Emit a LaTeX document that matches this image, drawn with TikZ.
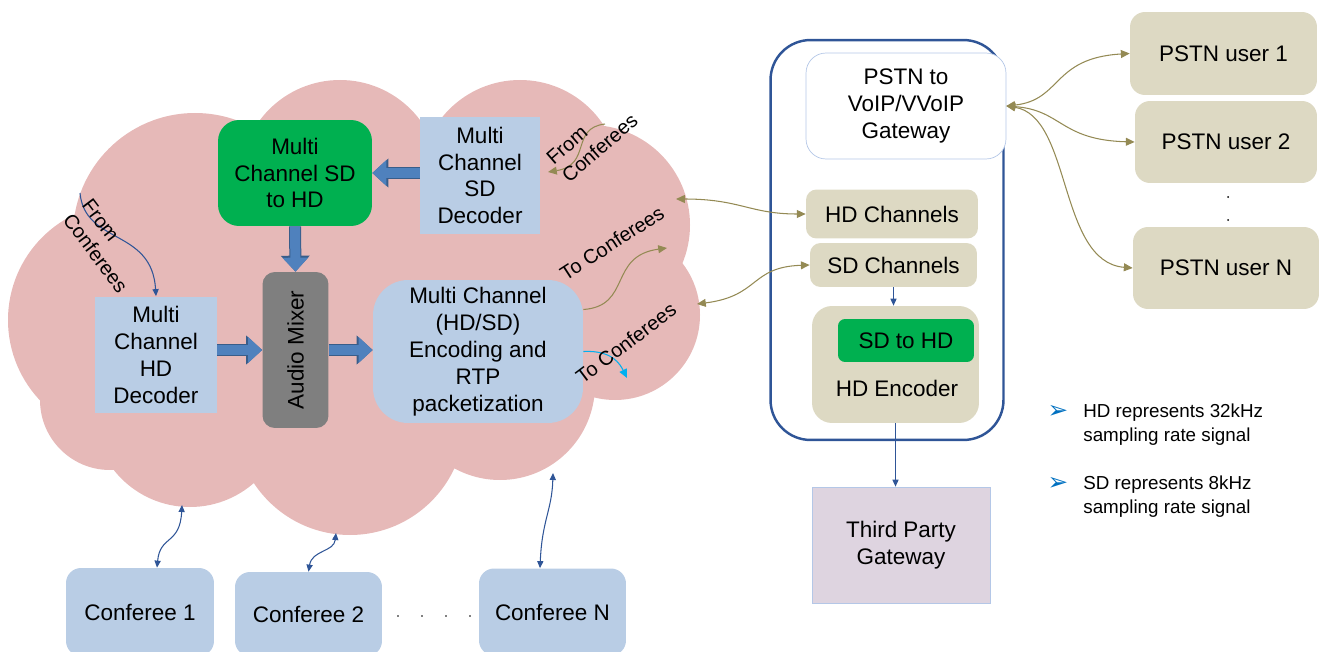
\documentclass[tikz,border=0pt]{standalone}
\usepackage{fontspec}
\setmainfont{Liberation Sans}
\newfontfamily\symfont{DejaVu Sans}
\usetikzlibrary{positioning, arrows.meta}

\definecolor{cloudpink}{RGB}{230,185,184}
\definecolor{paleblue}{RGB}{185,205,229}
\definecolor{chanfill}{RGB}{221,217,195}
\definecolor{mixgreen}{RGB}{0,176,80}
\definecolor{mixgray}{RGB}{127,127,127}
\definecolor{blockblue}{RGB}{79,129,189}
\definecolor{blockedge}{RGB}{56,93,138}
\definecolor{linkblue}{RGB}{47,85,151}
\definecolor{linkolive}{RGB}{148,138,84}
\definecolor{linkcyan}{RGB}{0,176,240}
\definecolor{gwlilac}{RGB}{222,212,224}
\definecolor{gwedge}{RGB}{180,199,231}
\definecolor{bulletblue}{RGB}{0,112,192}

\begin{document}
\begin{tikzpicture}[
    x=0.02cm, y=-0.02cm,
    box/.style={align=center, font=\fontsize{12.8}{15.3}\selectfont, inner sep=1pt},
    note/.style={align=left, font=\fontsize{11.4}{13.6}\selectfont, inner sep=0pt},
    legend/.style={align=left, anchor=west, font=\fontsize{10.7}{13.6}\selectfont, inner sep=0pt},
    bullet/.style={font=\symfont\fontsize{14}{16}\selectfont, text=bulletblue, inner sep=0pt},
    fat/.style={line width=0.2cm, draw=blockblue, -{Triangle[length=0.28cm, width=0.5cm]},
        preaction={draw=blockedge, line width=0.24cm, -{Triangle[length=0.32cm, width=0.56cm]}}},
    olivearr/.style={draw=linkolive, line width=0.6pt, -{Triangle[length=5pt, width=4.5pt]}},
    olivelink/.style={draw=linkolive, line width=0.6pt, {Triangle[length=5pt, width=4.5pt]}-{Triangle[length=5pt, width=4.5pt]}},
    bluearr/.style={draw=linkblue, line width=0.6pt, -{Triangle[length=4pt, width=3.5pt]}},
    bluelink/.style={draw=linkblue, line width=0.6pt, {Triangle[length=4pt, width=3.5pt]}-{Triangle[length=4pt, width=3.5pt]}},
]
\useasboundingbox (0,0) rectangle (1325,652);

% Cloud
\fill[cloudpink] (195,235) circle (122) (340,180) circle (100) (520,180) circle (100)
    (590,225) circle (100) (615,315) circle (85) (500,385) circle (95)
    (350,420) circle (115) (190,410) circle (97) (125,320) circle (117)
    (110,400) circle (70) (380,300) circle (170) (250,300) circle (130);

% Conference bridge blocks
\node[box, fill=mixgreen, rounded corners=12pt, minimum width=3.08cm, minimum height=2.12cm] (sdtohd) at (295,173) {Multi\\Channel SD\\to HD};
\node[box, fill=paleblue, minimum width=2.4cm, minimum height=2.34cm] (sddec) at (480,175.5) {Multi\\Channel\\SD\\Decoder};
\node[box, fill=paleblue, minimum width=2.44cm, minimum height=2.34cm] (hddec) at (156,355) {Multi\\Channel\\HD\\Decoder};
\node[box, fill=mixgray, rounded corners=7pt, minimum width=1.32cm, minimum height=3.12cm] (mixer) at (295.5,350) {\rotatebox{90}{Audio Mixer}};
\node[box, fill=paleblue, rounded corners=20pt, minimum width=4.2cm, minimum height=2.86cm] (enc) at (478,351.5) {Multi Channel\\(HD/SD)\\Encoding and\\RTP\\packetization};

\draw[fat] (sddec.west |- sdtohd) -- (sdtohd.east);
\draw[fat] (sdtohd.south) -- (mixer.north);
\draw[fat] (hddec.east |- mixer) -- (mixer.west);
\draw[fat] (mixer.east) -- (mixer.east -| enc.west);

% From / to conferees
\coordinate (fromL) at (80,193);
\coordinate (fromR) at (605,124);
\coordinate (fromRend) at (548,172);
\coordinate (toUp) at (667,248);
\coordinate (toLow) at (627,378);
\draw[bluearr] (fromL) .. controls (85,245) and (152,228) .. (hddec.north);
\node[note, rotate=-53] (fromLtxt) at (105,246) {From\\Conferees};
\draw[olivearr] (fromR) .. controls (570,128) and (592,165) .. (fromRend);
\node[note, rotate=41] (fromRtxt) at (592,139) {From\\Conferees};
\draw[olivearr] ([yshift=0.84cm]enc.east) .. controls (632,306) and (608,256) .. (toUp);
\node[note, rotate=33] (toUptxt) at (612,243) {To Conferees};
\draw[draw=linkcyan, line width=0.6pt, -{Triangle[length=5pt, width=4.5pt]}] (enc.east) .. controls (612,350) and (620,364) .. (toLow);
\node[note, rotate=37] (toLowtxt) at (626,343) {To Conferees};

% Gateway
\node[draw=linkblue, line width=1.4pt, rounded corners=0.8cm, minimum width=4.66cm, minimum height=8cm] (gwbox) at (887,240) {};
\node[box, draw=gwedge, fill=white, rounded corners=0.4cm, minimum width=4cm, minimum height=2.12cm] (pstngw) at (906,106) {PSTN to\\VoIP/VVoIP\\Gateway};
\node[box, fill=chanfill, rounded corners=6pt, minimum width=3.44cm, minimum height=0.98cm] (hdch) at (892,214) {HD Channels};
\node[box, fill=chanfill, rounded corners=6pt, minimum width=3.34cm, minimum height=0.88cm] (sdch) at (893.5,265) {SD Channels};
\node[fill=chanfill, rounded corners=0.4cm, minimum width=3.34cm, minimum height=2.34cm] (hdenc) at (895.5,364.5) {};
\node[box, fill=mixgreen, rounded corners=4pt, minimum width=2.72cm, minimum height=0.86cm] (sdhd) at (906,340.5) {SD to HD};
\node[box] (hdenctxt) at (897,388) {HD Encoder};
\node[box, draw=gwedge, fill=gwlilac, minimum width=3.56cm, minimum height=2.32cm] (third) at (901,545) {Third Party\\Gateway};

\draw[bluearr] (sdch.south) -- (sdch.south |- hdenc.north);
\draw[bluearr] (hdenc.south) -- (hdenc.south |- third.north);

\coordinate (cloudHD) at (676,199);
\coordinate (cloudSD) at (697,304);
\draw[olivelink] (cloudHD) .. controls (740,199) and (750,214) .. (hdch.west);
\draw[olivelink] (cloudSD) .. controls (760,296) and (750,267) .. (sdch.west);

% PSTN users
\node[box, fill=chanfill, rounded corners=0.3cm, minimum width=3.74cm, minimum height=1.66cm] (user1) at (1223.5,53.5) {PSTN user 1};
\node[box, fill=chanfill, rounded corners=0.3cm, minimum width=3.64cm, minimum height=1.64cm] (user2) at (1226,142) {PSTN user 2};
\node[box, fill=chanfill, rounded corners=0.3cm, minimum width=3.72cm, minimum height=1.64cm] (userN) at (1226,268) {PSTN user N};
\fill (1228,197) circle (1) (1228,220) circle (1);

\draw[olivelink] (pstngw.east) .. controls (1062,100) and (1052,58) .. (user1.west);
\draw[olivelink] (pstngw.east) .. controls (1062,110) and (1060,140) .. (user2.west);
\draw[olivelink] (pstngw.east) .. controls (1072,116) and (1058,262) .. (userN.west);

% Legend
\node[bullet] (bullet1) at (1058,412) {➢};
\node[bullet] (bullet2) at (1058,484) {➢};
\node[legend] (hdnote) at (1083,425) {HD represents 32kHz\\sampling rate signal};
\node[legend] (sdnote) at (1083,497) {SD represents 8kHz\\sampling rate signal};

% Conferees
\node[box, fill=paleblue, rounded corners=0.3cm, minimum width=2.96cm, minimum height=1.76cm] (conf1) at (140,612) {Conferee 1};
\node[box, fill=paleblue, rounded corners=0.3cm, minimum width=2.94cm, minimum height=1.68cm] (conf2) at (308.5,614) {Conferee 2};
\node[box, fill=paleblue, rounded corners=0.3cm, minimum width=2.94cm, minimum height=1.74cm] (confN) at (552.5,612) {Conferee N};
\foreach \dx in {398,422,446,470}
    \fill (\dx,616) circle (0.8);

\coordinate (cloud1) at (182,505);
\coordinate (cloud2) at (336,533);
\coordinate (cloudN) at (553,473);
\draw[bluelink] ([xshift=0.34cm]conf1.north) .. controls (160,535) and (180,545) .. (cloud1);
\draw[bluelink] (conf2.north) .. controls (312,550) and (334,552) .. (cloud2);
\draw[bluelink] ([xshift=-0.25cm]confN.north) .. controls (542,520) and (552,510) .. (cloudN);

\end{tikzpicture}
\end{document}
